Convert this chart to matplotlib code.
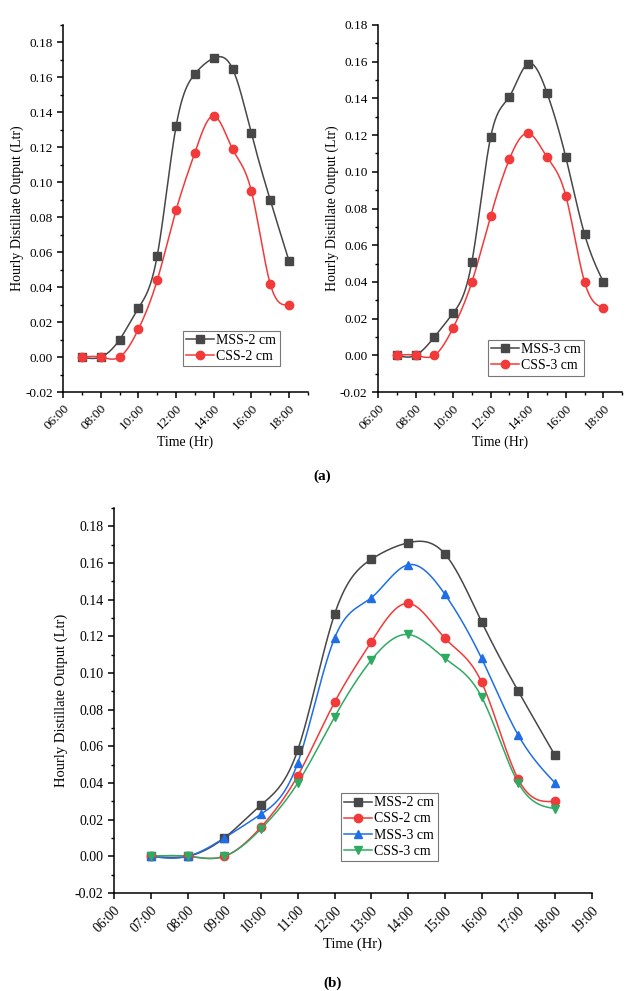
import numpy as np
import matplotlib
matplotlib.use("Agg")
import matplotlib.pyplot as plt
from matplotlib.ticker import MultipleLocator, FuncFormatter

plt.rcParams['font.family'] = ['Liberation Serif', 'DejaVu Serif']

# hours of the day
hours = [7, 8, 9, 10, 11, 12, 13, 14, 15, 16, 17, 18]

mss_2 = [0.000, 0.000, 0.010, 0.028, 0.058, 0.132, 0.162, 0.171, 0.165, 0.128, 0.090, 0.055]
css_2 = [0.000, 0.000, 0.000, 0.016, 0.044, 0.084, 0.117, 0.138, 0.119, 0.095, 0.042, 0.030]
mss_3 = [0.000, 0.000, 0.010, 0.023, 0.051, 0.119, 0.141, 0.159, 0.143, 0.108, 0.066, 0.040]
css_3 = [0.000, 0.000, 0.000, 0.015, 0.040, 0.076, 0.107, 0.121, 0.108, 0.087, 0.040, 0.026]

labels = ['MSS-2 cm', 'CSS-2 cm', 'MSS-3 cm', 'CSS-3 cm']

GRAY = '#474747'
RED = '#f23a3a'
BLUE = '#1f6ee6'
GREEN = '#2faa62'


def natural_spline(x, y, n=400):
    """Natural cubic spline through the points, like Origin's spline line"""
    x = np.asarray(x, float)
    y = np.asarray(y, float)
    k = len(x)
    h = np.diff(x)
    A = np.zeros((k, k))
    r = np.zeros(k)
    A[0, 0] = A[-1, -1] = 1
    for i in range(1, k - 1):
        A[i, i - 1] = h[i - 1]
        A[i, i] = 2 * (h[i - 1] + h[i])
        A[i, i + 1] = h[i]
        r[i] = 3 * ((y[i + 1] - y[i]) / h[i] - (y[i] - y[i - 1]) / h[i - 1])
    c = np.linalg.solve(A, r)
    xs = np.linspace(x[0], x[-1], n)
    idx = np.clip(np.searchsorted(x, xs) - 1, 0, k - 2)
    dx = xs - x[idx]
    b = (y[1:] - y[:-1]) / h - h * (2 * c[:-1] + c[1:]) / 3
    d = (c[1:] - c[:-1]) / (3 * h)
    ys = y[idx] + b[idx] * dx + c[idx] * dx**2 + d[idx] * dx**3
    return xs, ys


def draw_series(ax, y, color, marker, label, ms):
    xs, ys = natural_spline(hours, y)
    ax.plot(xs, ys, color=color, lw=1.1, zorder=2)
    ax.plot(hours, y, linestyle='none', marker=marker, color=color, ms=ms, zorder=3)
    # proxy for the legend (line + marker)
    ax.plot([], [], color=color, lw=1.1, marker=marker, ms=ms, label=label)


def style_axis(ax, major_x, tick_fs, label_fs, ypad):
    for side in ['top', 'right']:
        ax.spines[side].set_visible(False)
    for side in ['left', 'bottom']:
        ax.spines[side].set_linewidth(1.1)
    ax.set_xlim(6, 19)
    ax.set_ylim(-0.02, 0.19)
    ax.xaxis.set_major_locator(MultipleLocator(major_x))
    ax.xaxis.set_minor_locator(MultipleLocator(1))
    ax.yaxis.set_major_locator(MultipleLocator(0.02))
    ax.yaxis.set_minor_locator(MultipleLocator(0.01))
    ax.xaxis.set_major_formatter(FuncFormatter(lambda v, p: f"{int(round(v)):02d}:00"))
    ax.yaxis.set_major_formatter(FuncFormatter(lambda v, p: f"{v:.2f}"))
    ax.tick_params(which='major', direction='out', length=4, width=1.1, labelsize=tick_fs)
    ax.tick_params(which='minor', direction='out', length=2.5, width=1.0)
    for t in ax.get_xticklabels():
        t.set_rotation(45)
        t.set_ha('right')
        t.set_va('top')
        t.set_rotation_mode('anchor')
    ax.set_xlabel('Time (Hr)', fontsize=label_fs, labelpad=2)
    ax.set_ylabel('Hourly Distillate Output (Ltr)', fontsize=label_fs, labelpad=ypad)


def add_legend(ax, anchor, fs, spacing):
    leg = ax.legend(loc='lower left', bbox_to_anchor=anchor, fontsize=fs, frameon=True,
                    fancybox=False, edgecolor='#555555', handlelength=2.0,
                    handletextpad=0.15, borderpad=0.25, labelspacing=spacing,
                    borderaxespad=0)
    leg.get_frame().set_linewidth(0.8)


fig = plt.figure(figsize=(6.44, 9.91), dpi=100)

# (a) left: 2 cm
ax1 = fig.add_axes([0.098, 0.6044, 0.380, 0.3704])
draw_series(ax1, mss_2, GRAY, 's', labels[0], 5.5)
draw_series(ax1, css_2, RED, 'o', labels[1], 6)
style_axis(ax1, 2, 9.5, 10, 1)
add_legend(ax1, (0.49, 0.07), 10, 0.2)

# (a) right: 3 cm
ax2 = fig.add_axes([0.587, 0.6044, 0.379, 0.3704])
draw_series(ax2, mss_3, GRAY, 's', labels[2], 5.5)
draw_series(ax2, css_3, RED, 'o', labels[3], 6)
style_axis(ax2, 2, 9.5, 10, 1)
ax2.set_ylim(-0.02, 0.18)
add_legend(ax2, (0.45, 0.045), 10, 0.2)

fig.text(0.5, 1 - 476 / 991, '(a)', ha='center', va='center', fontsize=11, fontweight='bold')

# (b) combined
ax3 = fig.add_axes([0.177, 0.0989, 0.742, 0.3885])
draw_series(ax3, mss_2, GRAY, 's', labels[0], 5.5)
draw_series(ax3, css_2, RED, 'o', labels[1], 6)
draw_series(ax3, mss_3, BLUE, '^', labels[2], 6)
draw_series(ax3, css_3, GREEN, 'v', labels[3], 6)
style_axis(ax3, 1, 10, 10.5, 5)
add_legend(ax3, (0.475, 0.083), 10, 0.22)

fig.text(0.517, 1 - 983 / 991, '(b)', ha='center', va='center', fontsize=11, fontweight='bold')

fig.savefig('out.png', dpi=100, facecolor='white')
